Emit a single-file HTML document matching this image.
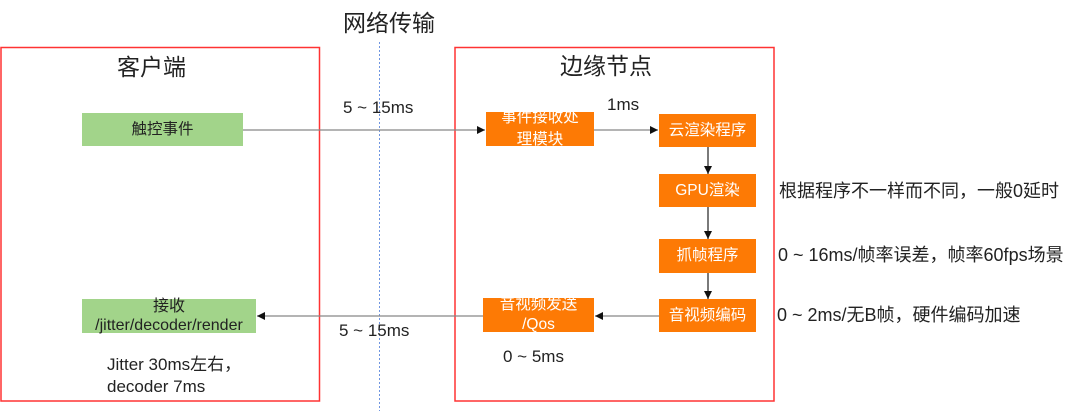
<!DOCTYPE html>
<html><head><meta charset="utf-8">
<style>
html,body{margin:0;padding:0;background:#fff;}
body{width:1080px;height:411px;position:relative;overflow:hidden;font-family:"Liberation Sans","Noto Sans CJK SC",sans-serif;color:#222;}
.t{position:absolute;white-space:nowrap;line-height:1;}
.box{position:absolute;display:flex;align-items:center;justify-content:center;text-align:center;font-size:15.5px;line-height:18px;white-space:nowrap;}
.g{background:#a2d48a;color:#222;}
.o{background:#fd7a05;color:#fff;}
</style></head><body>
<svg width="1080" height="411" style="position:absolute;left:0;top:0">
<defs>
<marker id="ah" markerWidth="8" markerHeight="8" refX="8" refY="4" orient="auto" markerUnits="userSpaceOnUse">
<path d="M0,0 L8,4 L0,8 z" fill="#111"/>
</marker>
</defs>
<rect x="1" y="47.5" width="318.5" height="353.5" fill="none" stroke="#f33" stroke-width="1.5"/>
<rect x="455" y="47.5" width="319" height="353.5" fill="none" stroke="#f33" stroke-width="1.5"/>
<line x1="379.5" y1="42" x2="379.5" y2="411" stroke="#6f95e0" stroke-width="1" stroke-dasharray="2,2"/>
<line x1="243" y1="130" x2="485" y2="130" stroke="#888" stroke-width="1.3" marker-end="url(#ah)"/>
<line x1="594" y1="130" x2="658" y2="130" stroke="#888" stroke-width="1.3" marker-end="url(#ah)"/>
<line x1="708" y1="147" x2="708" y2="174" stroke="#333" stroke-width="1.3" marker-end="url(#ah)"/>
<line x1="708" y1="207" x2="708" y2="239" stroke="#333" stroke-width="1.3" marker-end="url(#ah)"/>
<line x1="708" y1="273" x2="708" y2="299" stroke="#333" stroke-width="1.3" marker-end="url(#ah)"/>
<line x1="659" y1="316" x2="595" y2="316" stroke="#888" stroke-width="1.3" marker-end="url(#ah)"/>
<line x1="483" y1="316" x2="257" y2="316" stroke="#888" stroke-width="1.3" marker-end="url(#ah)"/>
</svg>

<div class="t" style="left:343px;top:12px;font-size:23px;">网络传输</div>
<div class="t" style="left:117px;top:56px;font-size:23px;">客户端</div>
<div class="t" style="left:560px;top:55px;font-size:23px;">边缘节点</div>

<div class="box g" style="left:82px;top:113px;width:161px;height:33px;">触控事件</div>
<div class="box g" style="left:82px;top:299px;width:174px;height:34px;flex-direction:column;line-height:19px;font-size:16px;"><span>接收</span><span>/jitter/decoder/render</span></div>

<div class="box o" style="left:486px;top:112px;width:108px;height:34px;flex-direction:column;line-height:22px;"><span>事件接收处</span><span>理模块</span></div>
<div class="box o" style="left:659px;top:114px;width:97px;height:33px;">云渲染程序</div>
<div class="box o" style="left:659px;top:174px;width:97px;height:33px;">GPU渲染</div>
<div class="box o" style="left:659px;top:239px;width:97px;height:34px;">抓帧程序</div>
<div class="box o" style="left:659px;top:299px;width:97px;height:33px;">音视频编码</div>
<div class="box o" style="left:483px;top:298px;width:111px;height:34px;flex-direction:column;line-height:20px;"><span>音视频发送</span><span>/Qos</span></div>

<div class="t" style="left:343px;top:99px;font-size:17px;">5 ~ 15ms</div>
<div class="t" style="left:607px;top:96px;font-size:17px;">1ms</div>
<div class="t" style="left:339px;top:322px;font-size:17px;">5 ~ 15ms</div>
<div class="t" style="left:503px;top:348px;font-size:17px;">0 ~ 5ms</div>
<div class="t" style="left:107px;top:354px;font-size:17px;line-height:22px;">Jitter 30ms左右，<br>decoder 7ms</div>

<div class="t" style="left:779px;top:182px;font-size:18px;">根据程序不一样而不同，一般0延时</div>
<div class="t" style="left:778px;top:246px;font-size:18px;">0 ~ 16ms/帧率误差，帧率60fps场景</div>
<div class="t" style="left:777px;top:306px;font-size:18px;">0 ~ 2ms/无B帧，硬件编码加速</div>
</body></html>
